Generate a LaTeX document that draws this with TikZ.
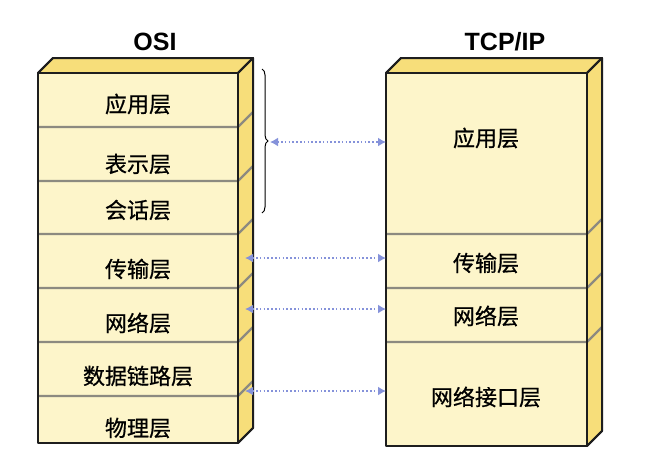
\documentclass[tikz,border=0pt]{standalone}
\usepackage{fontspec}
\setmainfont{Liberation Sans}
\newfontfamily\cjk[FakeBold=0.7]{Noto Sans CJK SC}
\usetikzlibrary{arrows.meta,decorations.pathreplacing}
\definecolor{frontc}{HTML}{FDF5CA}
\definecolor{sidec}{HTML}{F7DE7A}
\definecolor{edgec}{HTML}{1E1E1E}
\definecolor{divc}{HTML}{8C8A80}
\definecolor{arrc}{HTML}{8592DA}
\tikzset{
  face/.style={fill=frontc, draw=none},
  sideface/.style={fill=sidec, draw=edgec, line width=1.8pt, line join=round},
  outline/.style={draw=edgec, line width=2pt, line join=round},
  divider/.style={draw=divc, line width=2.4pt},
  lbl/.style={font=\cjk\fontsize{22}{24}\selectfont, inner sep=0pt},
  ttl/.style={font=\bfseries\fontsize{25}{27}\selectfont, inner sep=0pt},
  link/.style={draw=arrc, line width=2.2pt, dash pattern=on 1.6pt off 2.2pt, {Latex[length=8pt,width=9pt]}-{Latex[length=8pt,width=9pt]}},
  bracec/.style={draw=black, line width=1pt, decorate, decoration={brace, amplitude=6pt}}
}
\begin{document}
\begin{tikzpicture}[x=1pt, y=-1pt]
\useasboundingbox (0,0) rectangle (645,461);
\fill[white] (0,0) rectangle (645,461);
% ---------- OSI box ----------
\path[sideface] (38,73) -- (53,58) -- (253,58) -- (238,73) -- cycle;
\path[sideface] (238,73) -- (253,58) -- (253,428) -- (238,443) -- cycle;
\path[face] (38,73) rectangle (238,443);
\foreach \y in {127,181,234,288,342,396}{
  \draw[divider] (38,\y) -- (238,\y) -- (253,\y-15);
}
\draw[outline] (38,73) rectangle (238,443);
\draw[outline] (38,73) -- (53,58) -- (253,58) -- (253,428) -- (238,443);
\draw[outline] (238,73) -- (253,58);
% ---------- TCP/IP box ----------
\path[sideface] (386,73) -- (401,58) -- (602,58) -- (587,73) -- cycle;
\path[sideface] (587,73) -- (602,58) -- (602,431) -- (587,446) -- cycle;
\path[face] (386,73) rectangle (587,446);
\foreach \y in {234,288,342}{
  \draw[divider] (386,\y) -- (587,\y) -- (602,\y-15);
}
\draw[outline] (386,73) rectangle (587,446);
\draw[outline] (386,73) -- (401,58) -- (602,58) -- (602,431) -- (587,446);
\draw[outline] (587,73) -- (602,58);
% ---------- titles ----------
\node[ttl] (tosi) at (155,42) {OSI};
\node[ttl] (ttcp) at (505,42) {TCP/IP};
% ---------- OSI labels ----------
\node[lbl] (o7) at (138,104) {应用层};
\node[lbl] (o6) at (138,164) {表示层};
\node[lbl] (o5) at (138,210) {会话层};
\node[lbl] (o4) at (138,269) {传输层};
\node[lbl] (o3) at (138,323) {网络层};
\node[lbl] (o2) at (138,376) {数据链路层};
\node[lbl] (o1) at (138,428) {物理层};
% ---------- TCP/IP labels ----------
\node[lbl] (t4) at (486,138) {应用层};
\node[lbl] (t3) at (486,263) {传输层};
\node[lbl] (t2) at (486,316) {网络层};
\node[lbl] (t1) at (486,397) {网络接口层};
% ---------- brace ----------
\coordinate (bt) at (262,69);
\coordinate (bb) at (262,213);
\draw[bracec] (bt) -- (bb);
% ---------- connector end points ----------
\coordinate (a1) at (270,142);
\coordinate (b1) at (386,142);
\coordinate (a2) at (245,258);
\coordinate (b2) at (386,258);
\coordinate (a3) at (245,309);
\coordinate (b3) at (386,309);
\coordinate (a4) at (245,391);
\coordinate (b4) at (386,391);
\draw[link] (a1) -- (b1);
\draw[link] (a2) -- (b2);
\draw[link] (a3) -- (b3);
\draw[link] (a4) -- (b4);
\end{tikzpicture}
\end{document}
